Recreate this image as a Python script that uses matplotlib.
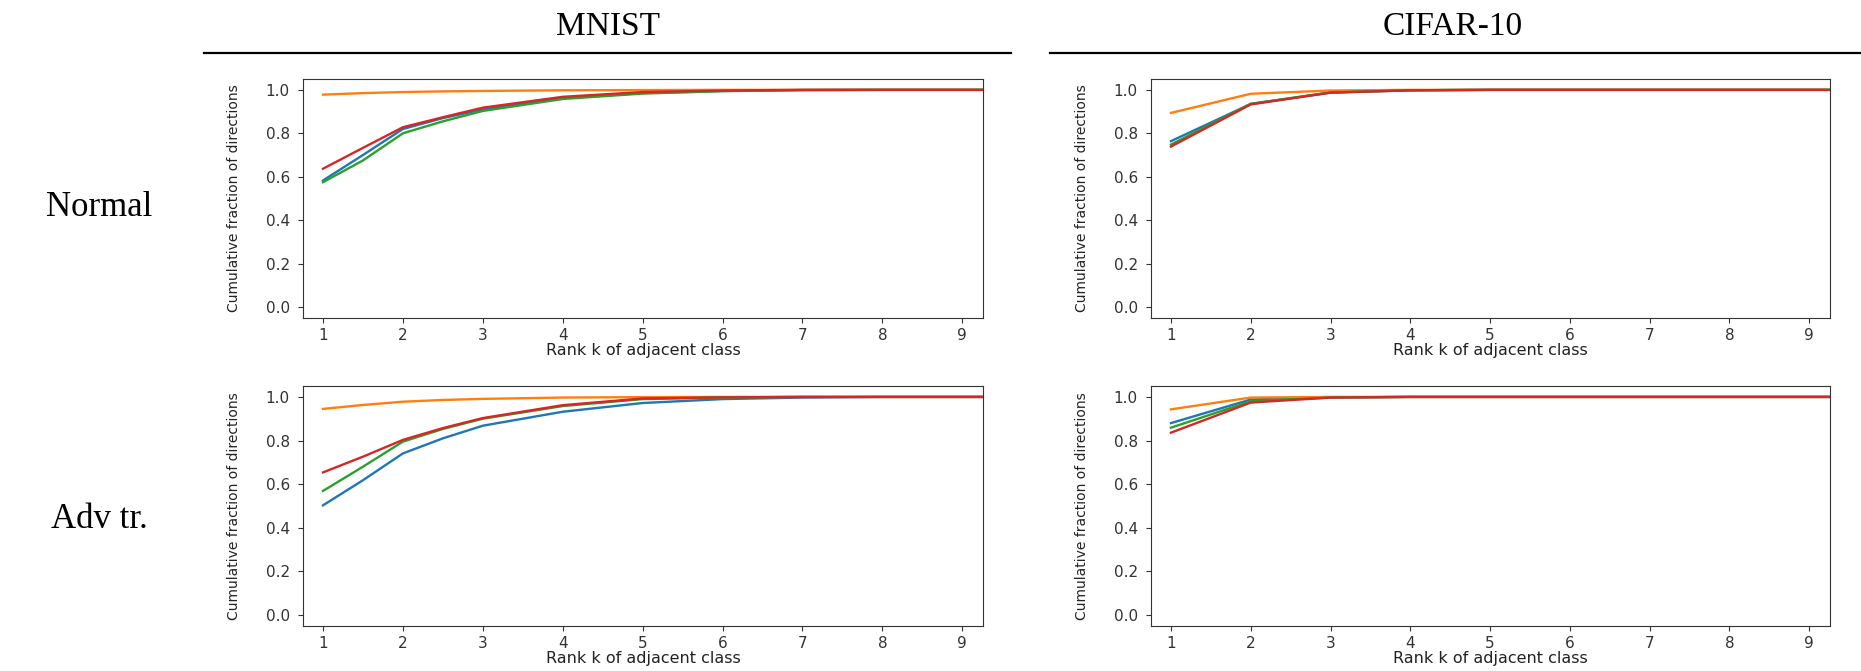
import matplotlib
matplotlib.use("Agg")
import matplotlib.pyplot as plt
from matplotlib.lines import Line2D

# ---------------- data ----------------
datasets = ["MNIST", "CIFAR-10"]
row_labels = ["Normal", "Adv tr."]
series_colors = ["#1f77b4", "#ff7f0e", "#2ca02c", "#d62728"]
x_ticks = [1, 2, 3, 4, 5, 6, 7, 8, 9]

mnist_rank = [1, 1.5, 2, 2.5, 3, 4, 5, 6, 7, 8, 9, 10]
mnist_normal_blue = [0.583, 0.700, 0.820, 0.870, 0.910, 0.962, 0.985, 0.995, 0.999, 1.0, 1.0, 1.0]
mnist_normal_orange = [0.978, 0.985, 0.990, 0.993, 0.995, 0.998, 0.999, 1.0, 1.0, 1.0, 1.0, 1.0]
mnist_normal_green = [0.575, 0.675, 0.800, 0.855, 0.903, 0.958, 0.983, 0.994, 0.999, 1.0, 1.0, 1.0]
mnist_normal_red = [0.637, 0.733, 0.828, 0.874, 0.918, 0.968, 0.990, 0.997, 1.0, 1.0, 1.0, 1.0]

mnist_adv_blue = [0.503, 0.618, 0.741, 0.810, 0.868, 0.932, 0.972, 0.990, 0.997, 1.0, 1.0, 1.0]
mnist_adv_orange = [0.945, 0.963, 0.978, 0.986, 0.991, 0.997, 0.999, 1.0, 1.0, 1.0, 1.0, 1.0]
mnist_adv_green = [0.569, 0.680, 0.795, 0.853, 0.900, 0.958, 0.990, 0.997, 1.0, 1.0, 1.0, 1.0]
mnist_adv_red = [0.654, 0.726, 0.803, 0.857, 0.903, 0.962, 0.993, 0.998, 1.0, 1.0, 1.0, 1.0]

cifar_rank = [1, 2, 3, 4, 5, 6, 7, 8, 9, 10]
cifar_normal_blue = [0.764, 0.935, 0.988, 0.998, 1.0, 1.0, 1.0, 1.0, 1.0, 1.0]
cifar_normal_orange = [0.894, 0.982, 0.997, 1.0, 1.0, 1.0, 1.0, 1.0, 1.0, 1.0]
cifar_normal_green = [0.748, 0.936, 0.988, 0.998, 1.0, 1.0, 1.0, 1.0, 1.0, 1.0]
cifar_normal_red = [0.739, 0.933, 0.987, 0.998, 1.0, 1.0, 1.0, 1.0, 1.0, 1.0]

cifar_adv_blue = [0.880, 0.988, 0.998, 1.0, 1.0, 1.0, 1.0, 1.0, 1.0, 1.0]
cifar_adv_orange = [0.943, 0.997, 1.0, 1.0, 1.0, 1.0, 1.0, 1.0, 1.0, 1.0]
cifar_adv_green = [0.859, 0.980, 0.997, 1.0, 1.0, 1.0, 1.0, 1.0, 1.0, 1.0]
cifar_adv_red = [0.836, 0.974, 0.997, 1.0, 1.0, 1.0, 1.0, 1.0, 1.0, 1.0]

panels = {
    (0, 0): (mnist_rank, [mnist_normal_blue, mnist_normal_orange, mnist_normal_green, mnist_normal_red]),
    (1, 0): (mnist_rank, [mnist_adv_blue, mnist_adv_orange, mnist_adv_green, mnist_adv_red]),
    (0, 1): (cifar_rank, [cifar_normal_blue, cifar_normal_orange, cifar_normal_green, cifar_normal_red]),
    (1, 1): (cifar_rank, [cifar_adv_blue, cifar_adv_orange, cifar_adv_green, cifar_adv_red]),
}

# ---------------- figure ----------------
W, H = 1861, 671
fig = plt.figure(figsize=(W / 100, H / 100), dpi=100)

def fx(px):
    return px / W

def fy(py):
    return 1 - py / H

col_lr = [(303, 983), (1151, 1830)]
row_tb = [(79, 318), (386, 626)]

for (r, c), (xs, ys_list) in panels.items():
    l, rr = col_lr[c]
    t, b = row_tb[r]
    ax = fig.add_axes([fx(l), fy(b), fx(rr - l), (b - t) / H])
    for ys, col in zip(ys_list, series_colors):
        ax.plot(xs, ys, color=col, lw=1.7)
    ax.set_xlim(0.75, 9.26)
    ax.set_ylim(-0.05, 1.05)
    ax.set_xticks(x_ticks)
    ax.set_yticks([0.0, 0.2, 0.4, 0.6, 0.8, 1.0])
    ax.tick_params(labelsize=11, colors="#333333")
    ax.tick_params(axis="y", pad=6)
    for sp in ax.spines.values():
        sp.set_color("#333333")
    ax.set_xlabel("Rank k of adjacent class", fontsize=11.5, labelpad=0, color="#222222")
    ax.set_ylabel("Cumulative fraction of directions", fontsize=10, color="#222222")
    ax.yaxis.set_label_coords(-62 / (rr - l), 0.5)

serif = ["Liberation Serif", "DejaVu Serif"]
# column headers and rules
title_x = [608, 1453]
rule_x = [(204, 1011), (1050, 1861)]
for name, tx, (x0, x1) in zip(datasets, title_x, rule_x):
    fig.text(fx(tx), fy(27), name, ha="center", va="center", fontsize=24, family=serif)
    fig.add_artist(Line2D([fx(x0), fx(x1)], [fy(53), fy(53)], color="black", lw=1.6,
                          transform=fig.transFigure))

# row labels
row_y = [208, 519]
for lab, ry in zip(row_labels, row_y):
    fig.text(fx(99), fy(ry), lab, ha="center", va="center", fontsize=25, family=serif)

fig.savefig("out.png", dpi=100)
